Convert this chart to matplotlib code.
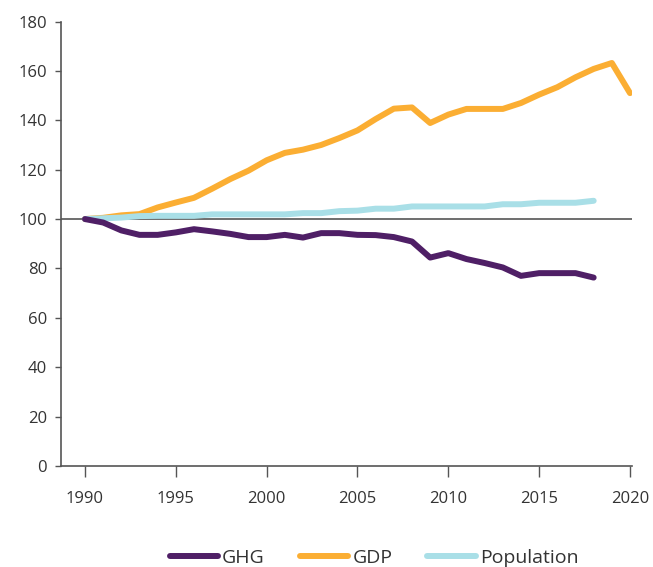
import matplotlib
matplotlib.use("Agg")
import matplotlib.pyplot as plt

# index, 1990 = 100
years = list(range(1990, 2021))
ghg = [100, 98.6, 95.4, 93.6, 93.6, 94.6, 95.9, 95.0, 94.0, 92.7,
       92.7, 93.6, 92.5, 94.3, 94.3, 93.6, 93.5, 92.7, 90.9, 84.4,
       86.2, 83.8, 82.2, 80.4, 77.0, 78.1, 78.1, 78.1, 76.3]
gdp = [100, 100.5, 101.5, 102.0, 104.7, 106.7, 108.6, 112.3, 116.2, 119.6,
       123.8, 126.8, 128.1, 130.0, 132.8, 135.9, 140.5, 144.7, 145.2, 138.9,
       142.3, 144.6, 144.6, 144.6, 147.0, 150.4, 153.4, 157.4, 160.8, 163.2,
       151.0]
population = [100, 100.3, 100.6, 101.2, 101.3, 101.3, 101.3, 101.9, 101.9, 101.9,
              101.9, 101.9, 102.4, 102.4, 103.2, 103.4, 104.2, 104.2, 105.1, 105.1,
              105.1, 105.1, 105.1, 106.0, 106.0, 106.6, 106.6, 106.6, 107.4]

plt.rcParams['font.family'] = ['Open Sans', 'DejaVu Sans']
plt.rcParams['font.size'] = 12
plt.rcParams['text.color'] = '#333333'
plt.rcParams['xtick.labelcolor'] = '#333333'
plt.rcParams['ytick.labelcolor'] = '#333333'

fig = plt.figure(figsize=(6.53, 5.67), dpi=100)
ax = fig.add_axes([61/653, 1 - 466/567, 571/653, (466 - 21.5)/567])

ax.axhline(100, color='#555555', lw=1.2, zorder=1)
ax.plot(years[:len(ghg)], ghg, color='#4f1f66', lw=4.3, label='GHG',
        solid_capstyle='round', solid_joinstyle='round', zorder=3)
ax.plot(years[:len(gdp)], gdp, color='#fbae33', lw=4.3, label='GDP',
        solid_capstyle='round', solid_joinstyle='round', zorder=2)
ax.plot(years[:len(population)], population, color='#a9dfe7', lw=4.3, label='Population',
        solid_capstyle='round', solid_joinstyle='round', zorder=2)

ax.set_xlim(1988.68, 2020.11)
ax.set_ylim(0, 180)
ax.set_xticks(range(1990, 2021, 5))
ax.set_yticks(range(0, 181, 20))

for s in ['top', 'right']:
    ax.spines[s].set_visible(False)
for s in ['left', 'bottom']:
    ax.spines[s].set_color('#555555')
    ax.spines[s].set_linewidth(1.2)
ax.tick_params(axis='x', length=8, width=1, color='#555555', pad=10, labelsize=12)
ax.tick_params(axis='y', length=4, width=1, color='#555555', pad=6, labelsize=12)

leg = fig.legend(loc='center', bbox_to_anchor=(374/653, 1 - 558/567), ncol=3,
                 frameon=False, handlelength=2.5, columnspacing=1.8,
                 handletextpad=0.2, fontsize=14)

fig.savefig('out.png', dpi=100)
